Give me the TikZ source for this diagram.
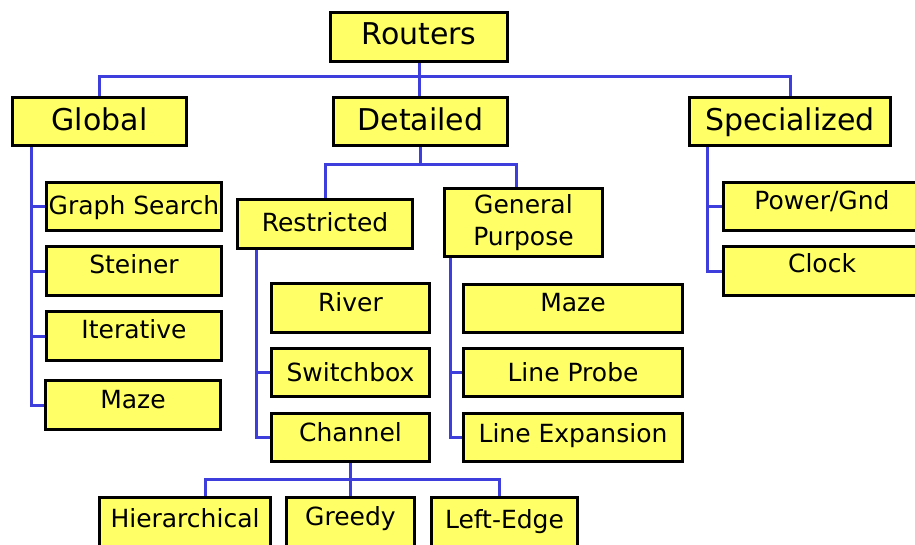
\documentclass[tikz,border=0pt]{standalone}
\usepackage{fontspec}
\setmainfont{DejaVu Sans}
\usetikzlibrary{backgrounds}
\definecolor{boxyellow}{RGB}{255,255,102}
\definecolor{wireblue}{RGB}{62,62,220}
\tikzset{
  box/.style={draw=black, fill=boxyellow, line width=2.8pt, inner sep=0pt, text depth=0pt, anchor=center},
  bigtxt/.style={font=\fontsize{30}{36}\selectfont},
  smalltxt/.style={font=\fontsize{25}{32}\selectfont},
  wire/.style={draw=wireblue, line width=3pt}
}
\begin{document}
\begin{tikzpicture}[x=1pt, y=-1pt]
\useasboundingbox (0,0) rectangle (915,544);
% level 0/1
\node[box, bigtxt, minimum width=177pt, minimum height=49pt, text height=14pt] (Routers) at (419,37) {Routers};
\node[box, bigtxt, minimum width=174pt, minimum height=48pt, text height=17pt] (Global) at (99.5,121.5) {Global};
\node[box, bigtxt, minimum width=174pt, minimum height=48pt, text height=17pt] (Detailed) at (420.5,121.5) {Detailed};
\node[box, bigtxt, minimum width=201pt, minimum height=48pt, text height=17pt] (Specialized) at (790,121.5) {Specialized};
% global children
\node[box, smalltxt, minimum width=175pt, minimum height=48pt, text height=15pt] (GGraph) at (134,206.5) {Graph Search};
\node[box, smalltxt, minimum width=175pt, minimum height=49pt, text height=4pt] (GSteiner) at (134,271) {Steiner};
\node[box, smalltxt, minimum width=175pt, minimum height=49pt, text height=4pt] (GIter) at (134,336) {Iterative};
\node[box, smalltxt, minimum width=175pt, minimum height=49pt, text height=6pt] (GMaze) at (133,405) {Maze};
% detailed children
\node[box, smalltxt, minimum width=175pt, minimum height=49pt, text height=14pt] (Restricted) at (325,224) {Restricted};
\node[box, smalltxt, minimum width=158pt, minimum height=68pt, text depth=, align=center] (GP) at (523.5,222.5) {General\\Purpose};
\node[box, smalltxt, minimum width=158pt, minimum height=49pt, text height=6pt] (River) at (350.5,308) {River};
\node[box, smalltxt, minimum width=158pt, minimum height=48pt, text height=17pt] (Switchbox) at (350.5,372.5) {Switchbox};
\node[box, smalltxt, minimum width=158pt, minimum height=48pt, text height=7pt] (Channel) at (350.5,437.5) {Channel};
\node[box, smalltxt, minimum width=219pt, minimum height=48pt, text height=5pt] (PMaze) at (573,308.5) {Maze};
\node[box, smalltxt, minimum width=219pt, minimum height=48pt, text height=17pt] (LProbe) at (573,372.5) {Line Probe};
\node[box, smalltxt, minimum width=219pt, minimum height=48pt, text height=10pt] (LExp) at (573,437.5) {Line Expansion};
% specialized children
\node[box, smalltxt, minimum width=197pt, minimum height=48pt, text height=5pt] (Power) at (822,206.5) {Power/Gnd};
\node[box, smalltxt, minimum width=197pt, minimum height=49pt, text height=2pt] (Clock) at (822,271) {Clock};
% channel children
\node[box, smalltxt, minimum width=171pt, minimum height=49pt, text height=10pt] (Hier) at (185,522) {Hierarchical};
\node[box, smalltxt, minimum width=128pt, minimum height=49pt, text height=6pt] (Greedy) at (350.5,522) {Greedy};
\node[box, smalltxt, minimum width=146pt, minimum height=49pt, text height=12pt] (LEdge) at (504.5,522) {Left-Edge};
% helper coordinates
\coordinate (rb) at (419,76);
\coordinate (gs) at (31,0);
\coordinate (db) at (421,164);
\coordinate (gpx) at (516,0);
\coordinate (rs) at (256,0);
\coordinate (ps) at (450,0);
\coordinate (ss) at (707,0);
\coordinate (cb) at (352,479);
\coordinate (hx) at (205,0);
\coordinate (lx) at (499,0);
\begin{scope}[on background layer]
\draw[wire] (Routers.south) -- (Routers.south |- Detailed.north);
\draw[wire] (Global.north) |- (rb) -| (Specialized.north);
\draw[wire] (Global.south -| gs) |- (GMaze.west);
\draw[wire] (GGraph.west -| gs) -- (GGraph.west);
\draw[wire] (GSteiner.west -| gs) -- (GSteiner.west);
\draw[wire] (GIter.west -| gs) -- (GIter.west);
\draw[wire] (Detailed.south) -- (Detailed.south |- db);
\draw[wire] (Restricted.north) |- (db) -| (GP.north -| gpx);
\draw[wire] (Restricted.south -| rs) |- (Channel.west);
\draw[wire] (Switchbox.west -| rs) -- (Switchbox.west);
\draw[wire] (GP.south -| ps) |- (LExp.west);
\draw[wire] (LProbe.west -| ps) -- (LProbe.west);
\draw[wire] (Specialized.south -| ss) |- (Clock.west);
\draw[wire] (Power.west -| ss) -- (Power.west);
\draw[wire] (Channel.south) -- (Greedy.north);
\draw[wire] (Hier.north -| hx) |- (cb) -| (LEdge.north -| lx);
\end{scope}
\end{tikzpicture}
\end{document}
